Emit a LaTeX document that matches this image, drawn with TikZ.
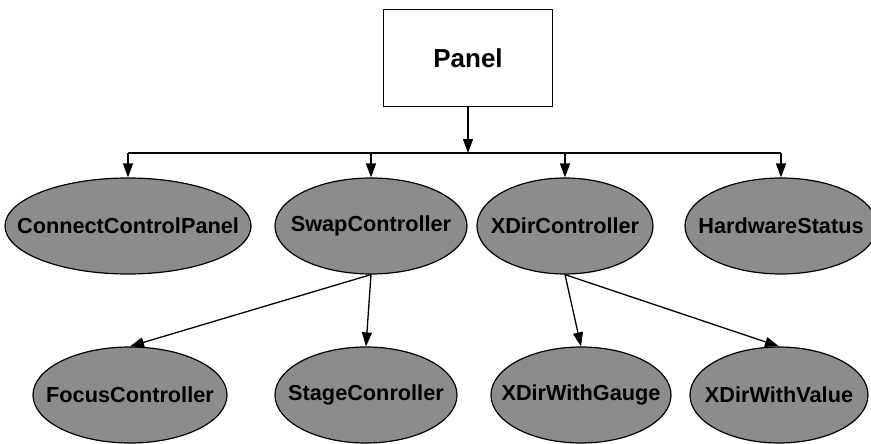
\documentclass[tikz,border=0pt]{standalone}
\usepackage{fontspec}
\setmainfont{Liberation Sans}
\usetikzlibrary{shapes.geometric,arrows.meta}

\begin{document}
\begin{tikzpicture}[x=1pt,y=-1pt,
	cls/.style 2 args={ellipse, draw, line width=1.2pt, fill=black!45, minimum width=#1pt, minimum height=96pt, inner sep=0pt,
		label={[font=\bfseries\fontsize{21.7}{22}\selectfont]center:#2}},
	link/.style={line width=1.3pt, -{Triangle[length=14pt,width=10pt]}}]
	\useasboundingbox (0,0) rectangle (871,444);

	\draw (468,58) node[draw, line width=1.3pt, minimum width=169pt, minimum height=97pt, font=\bfseries\fontsize{26}{26}\selectfont] (panel) {Panel} ;

	\draw (128,226) node[cls={246}{ConnectControlPanel}] (ccp) {} ;
	\draw (371,226) node[cls={192}{SwapController}] (swap) {} ;
	\draw (565,226) node[cls={176}{XDirController}] (xdir) {} ;
	\draw (781,226) node[cls={192}{HardwareStatus}] (hw) {} ;

	\draw (130,395) node[cls={194}{FocusController}] (focus) {} ;
	\draw (366,395) node[cls={182}{StageConroller}] (stage) {} ;
	\draw (581,395) node[cls={180}{XDirWithGauge}] (gauge) {} ;
	\draw (779,395) node[cls={178}{XDirWithValue}] (value) {} ;

	\coordinate (bus) at (468,153) ;
	\draw [link] (panel) -- (bus) ;
	\draw [line width=1.3pt] (ccp.north |- bus) -- (hw.north |- bus) ;
	\foreach \n in {ccp,swap,xdir,hw}
		\draw [link] (\n.north |- bus) -- (\n.north) ;

	\draw [link] (swap.south) -- (focus.north) ;
	\draw [link] (swap.south) -- (stage.north) ;
	\draw [link] (xdir.south) -- (gauge.north) ;
	\draw [link] (xdir.south) -- (value.north) ;
\end{tikzpicture}
\end{document}
